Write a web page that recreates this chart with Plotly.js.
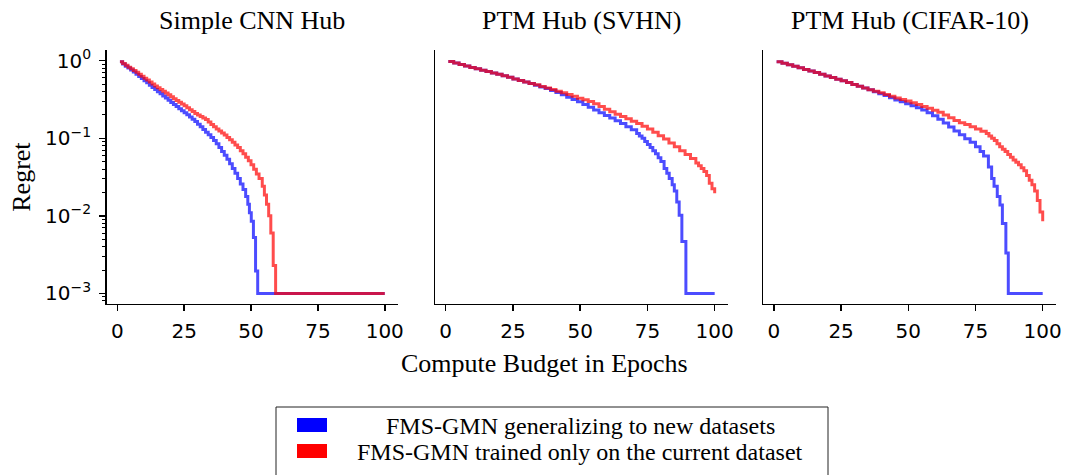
<!DOCTYPE html>
<html>
<head>
<meta charset="utf-8">
<script src="https://cdn.plot.ly/plotly-3.0.1.min.js"></script>
<style>html,body{margin:0;padding:0;background:#fff;}</style>
</head>
<body>
<div id="chart" style="width:1067px;height:475px;"></div>
<script>
// ---- data (regret vs compute budget in epochs) ----
const panelTitles = ["Simple CNN Hub", "PTM Hub (SVHN)", "PTM Hub (CIFAR-10)"];
const seriesNames = ["FMS-GMN generalizing to new datasets", "FMS-GMN trained only on the current dataset"];
const xTickVals = [0, 25, 50, 75, 100];
const yTickVals = [0.001, 0.01, 0.1, 1];
const yTickText = ["10<sup>\u22123</sup>", "10<sup>\u22122</sup>", "10<sup>\u22121</sup>", "10<sup>0</sup>"];
const yMinorVals = [0.0008, 0.0009, 0.002, 0.003, 0.004, 0.005, 0.006, 0.007, 0.008, 0.009,
  0.02, 0.03, 0.04, 0.05, 0.06, 0.07, 0.08, 0.09, 0.2, 0.3, 0.4, 0.5, 0.6, 0.7, 0.8, 0.9];

// Simple CNN Hub
const cnnGenX = [1,2,3,4,5,6,7,8,9,10,11,12,13,14,15,16,17,18,19,20,21,22,23,24,25,26,27,28,29,30,31,32,33,34,35,36,37,38,39,40,41,42,43,44,45,46,47,48,48.8,49.4,50.1,50.9,51.7,52.5,100];
const cnnGenY = [0.966,0.908,0.851,0.804,0.759,0.713,0.668,0.628,0.589,0.553,0.519,0.484,0.452,0.425,0.398,0.374,0.351,0.330,0.309,0.290,0.272,0.256,0.240,0.226,0.214,0.201,0.188,0.176,0.164,0.152,0.141,0.130,0.120,0.111,0.102,0.0933,0.0851,0.0759,0.0676,0.0603,0.0537,0.0468,0.0407,0.0355,0.0302,0.0257,0.0219,0.0178,0.0141,0.011,0.00851,0.00525,0.00195,0.001,0.001];
const cnnCurX = [1,2,3,4,5,6,7,8,9,10,11,12,13,14,15,16,17,18,19,20,21,22,23,24,25,26,27,28,29,30,31,32,33,34,35,36,37,38,39,40,41,42,43,44,45,46,47,48,49,50,51,52,53,54.2,55.0,55.8,56.6,57.4,58.3,59.2,100];
const cnnCurY = [0.970,0.918,0.871,0.826,0.785,0.745,0.708,0.668,0.631,0.596,0.562,0.531,0.501,0.473,0.447,0.425,0.403,0.382,0.363,0.343,0.324,0.308,0.292,0.277,0.263,0.248,0.234,0.221,0.209,0.200,0.191,0.182,0.174,0.162,0.151,0.141,0.132,0.124,0.117,0.110,0.102,0.0955,0.0891,0.0822,0.0759,0.0692,0.0631,0.0569,0.0513,0.0457,0.0398,0.0347,0.0302,0.024,0.0186,0.0141,0.01,0.00603,0.00229,0.001,0.001];

// PTM Hub (SVHN)
const svhnGenX = [1,3,5,7,9,11,13,15,17,19,21,23,25,27,29,31,33,35,37,39,41,43,45,47,49,51,53,55,57,59,61,63,65,67,69,71,72,73,74,75,76,77,78,79,80,81.2,82.2,83.1,84.2,85.0,85.9,86.8,87.8,89.3,100];
const svhnGenY = [0.977,0.933,0.891,0.855,0.820,0.787,0.755,0.724,0.695,0.667,0.638,0.610,0.582,0.556,0.531,0.507,0.484,0.459,0.437,0.412,0.389,0.363,0.339,0.316,0.295,0.272,0.251,0.232,0.214,0.197,0.182,0.168,0.155,0.141,0.129,0.115,0.107,0.1,0.0912,0.0832,0.0759,0.0692,0.0631,0.0562,0.0501,0.0407,0.0355,0.0302,0.0251,0.0209,0.0151,0.0102,0.00468,0.001,0.001];
const svhnCurX = [1,3,5,7,9,11,13,15,17,19,21,23,25,27,29,31,33,35,37,39,41,43,45,47,49,51,53,55,57,59,61,63,65,67,69,71,73,75,77,79,81,83,85,87,89,91,93,94,95,96,97,98,99,100];
const svhnCurY = [0.977,0.933,0.891,0.855,0.820,0.787,0.755,0.724,0.695,0.667,0.638,0.610,0.582,0.556,0.531,0.507,0.488,0.466,0.445,0.425,0.405,0.385,0.366,0.347,0.329,0.313,0.299,0.279,0.257,0.237,0.219,0.204,0.191,0.178,0.166,0.155,0.143,0.132,0.120,0.108,0.0977,0.0871,0.0776,0.0692,0.0617,0.0550,0.0479,0.0442,0.0407,0.0372,0.0331,0.0263,0.0224,0.0195];

// PTM Hub (CIFAR-10)
const cifarGenX = [1,3,5,7,9,11,13,15,17,19,21,23,25,27,29,31,33,35,37,39,41,43,45,47,49,51,53,55,57,59,61,63,65,67,69,71,73,75,76.7,78,79.8,81.0,81.9,83.1,84.1,85.0,86.3,87.2,100];
const cifarGenY = [0.973,0.929,0.887,0.847,0.809,0.773,0.736,0.702,0.668,0.637,0.607,0.578,0.550,0.522,0.495,0.470,0.445,0.421,0.398,0.376,0.355,0.333,0.312,0.295,0.279,0.263,0.248,0.232,0.214,0.195,0.176,0.157,0.140,0.124,0.111,0.0989,0.0891,0.0776,0.0676,0.0589,0.0427,0.0302,0.0240,0.0178,0.0138,0.00794,0.00331,0.001,0.001];
const cifarCurX = [1,3,5,7,9,11,13,15,17,19,21,23,25,27,29,31,33,35,37,39,41,43,45,47,49,51,53,55,57,59,61,63,65,67,69,71,73,75,77,79,80,81,82,83,84,85,86,87,88,89,90,91,92,93,94,95,96,97,98,99,100];
const cifarCurY = [0.973,0.929,0.887,0.847,0.809,0.773,0.736,0.702,0.668,0.637,0.607,0.578,0.550,0.522,0.495,0.470,0.445,0.421,0.403,0.385,0.367,0.349,0.331,0.316,0.302,0.288,0.272,0.257,0.243,0.229,0.216,0.200,0.184,0.170,0.158,0.150,0.141,0.132,0.123,0.115,0.107,0.100,0.0933,0.0851,0.0776,0.0724,0.0676,0.0617,0.0569,0.0525,0.0490,0.0457,0.0417,0.0380,0.0331,0.0288,0.0251,0.0209,0.0158,0.0112,0.00851];

// ---- styling ----
const W = 1067, H = 475;
const BLUE = "#0000ff", RED = "#ff0000";
const SERIF = "Liberation Serif, Times New Roman, serif";
const SANS = "DejaVu Sans, sans-serif";

const panels = [
  {gx: cnnGenX, gy: cnnGenY, cx: cnnCurX, cy: cnnCurY, px: [106.7, 398]},
  {gx: svhnGenX, gy: svhnGenY, cx: svhnCurX, cy: svhnCurY, px: [435, 728]},
  {gx: cifarGenX, gy: cifarGenY, cx: cifarCurX, cy: cifarCurY, px: [763.3, 1056]}
];
const yDom = [1 - 303.5 / H, 1 - 50 / H];

const traces = [];
const layout = {
  width: W, height: H,
  margin: {l: 0, r: 0, t: 0, b: 0},
  paper_bgcolor: "white", plot_bgcolor: "white",
  showlegend: false,
  annotations: [], shapes: []
};

panels.forEach((p, i) => {
  const sfx = i === 0 ? "" : String(i + 1);
  const xa = "x" + sfx, ya = "y" + sfx;
  traces.push({x: p.gx, y: p.gy, xaxis: xa, yaxis: ya, type: "scatter", mode: "lines",
    line: {color: BLUE, width: 3, shape: "hv"}, opacity: 0.7, name: seriesNames[0], hoverinfo: "skip"});
  traces.push({x: p.cx, y: p.cy, xaxis: xa, yaxis: ya, type: "scatter", mode: "lines",
    line: {color: RED, width: 3, shape: "hv"}, opacity: 0.7, name: seriesNames[1], hoverinfo: "skip"});
  layout["xaxis" + sfx] = {
    domain: [p.px[0] / W, p.px[1] / W], range: [-3.95, 104.95], anchor: ya,
    tickmode: "array", tickvals: xTickVals, ticks: "outside", ticklen: 6, tickwidth: 1.5, tickcolor: "black",
    showline: true, linecolor: "black", linewidth: 1.5, showgrid: false, zeroline: false,
    tickfont: {family: SANS, size: 20, color: "black"}, ticklabelstandoff: 3, fixedrange: true
  };
  const yax = {
    domain: yDom, type: "log", range: [-3.13, 0.138], anchor: xa,
    showline: true, linecolor: "black", linewidth: 1.5, showgrid: false, zeroline: false, fixedrange: true
  };
  if (i === 0) {
    Object.assign(yax, {
      tickmode: "array", tickvals: yTickVals, ticktext: yTickText,
      ticks: "outside", ticklen: 6, tickwidth: 1.5, tickcolor: "black",
      tickfont: {family: SANS, size: 20, color: "black"}, ticklabelstandoff: 4,
      minor: {tickmode: "array", tickvals: yMinorVals, ticks: "outside", ticklen: 3.5, tickwidth: 1, tickcolor: "black", showgrid: false}
    });
  } else {
    Object.assign(yax, {showticklabels: false, ticks: ""});
  }
  layout["yaxis" + sfx] = yax;
  layout.annotations.push({
    text: panelTitles[i], xref: "paper", yref: "paper",
    x: (p.px[0] + p.px[1]) / 2 / W, y: 1 - 20 / H, xanchor: "center", yanchor: "middle",
    showarrow: false, font: {family: SERIF, size: 26, color: "black"}
  });
});

// axis titles
layout.annotations.push({
  text: "Compute Budget in Epochs", xref: "paper", yref: "paper",
  x: 544 / W, y: 1 - 363.5 / H, xanchor: "center", yanchor: "middle",
  showarrow: false, font: {family: SERIF, size: 26, color: "black"}
});
layout.annotations.push({
  text: "Regret", xref: "paper", yref: "paper", textangle: -90,
  x: 22 / W, y: 1 - 176.75 / H, xanchor: "center", yanchor: "middle",
  showarrow: false, font: {family: SERIF, size: 26, color: "black"}
});

// legend (box, colour patches, labels)
const px2x = v => v / W, px2y = v => 1 - v / H;
layout.shapes.push({type: "rect", xref: "paper", yref: "paper",
  x0: px2x(276), x1: px2x(828), y0: px2y(485), y1: px2y(407),
  line: {color: "#222", width: 1}, fillcolor: "white", layer: "below"});
const legendColors = [BLUE, RED];
const patchTop = [418, 444];
const textMid = [425.5, 451.5];
const textCenter = [580.5, 579.5];
legendColors.forEach((c, k) => {
  layout.shapes.push({type: "rect", xref: "paper", yref: "paper",
    x0: px2x(297), x1: px2x(327), y0: px2y(patchTop[k] + 14), y1: px2y(patchTop[k]),
    line: {width: 0}, fillcolor: c});
  layout.annotations.push({
    text: seriesNames[k], xref: "paper", yref: "paper",
    x: px2x(textCenter[k]), y: px2y(textMid[k]), xanchor: "center", yanchor: "middle",
    showarrow: false, font: {family: SERIF, size: 24, color: "black"}
  });
});

Plotly.newPlot("chart", traces, layout, {staticPlot: true, displayModeBar: false});
</script>
</body>
</html>
